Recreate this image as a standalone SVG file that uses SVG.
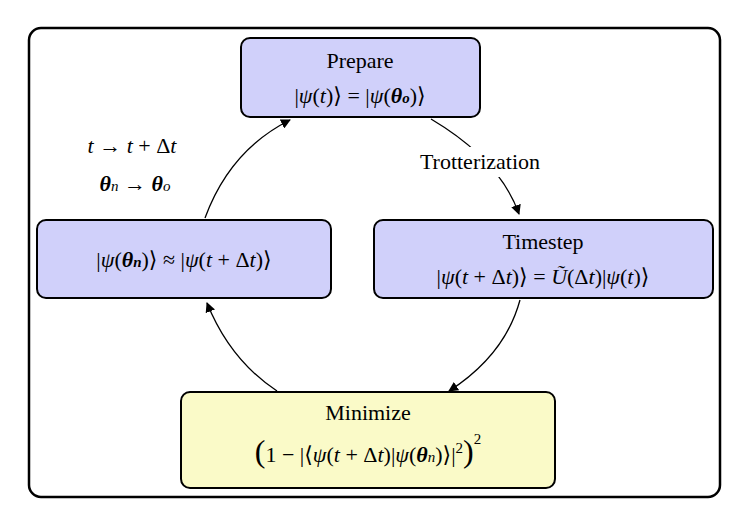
<svg xmlns="http://www.w3.org/2000/svg" width="748" height="527" viewBox="0 0 748 527">
<defs>
<style>
.n{fill:#d0d0fa;stroke:#000;stroke-width:2}
.y{fill:#fafac8;stroke:#000;stroke-width:2}
text{font-family:"Liberation Serif","DejaVu Serif",serif;font-size:22px;fill:#000;text-anchor:middle}
.i{font-style:italic}
.b{font-weight:bold;font-style:italic}
.c{fill:none;stroke:#000;stroke-width:1.3}
</style>
<marker id="a" viewBox="0 0 10 10" refX="9" refY="5" markerWidth="10" markerHeight="10" markerUnits="userSpaceOnUse" orient="auto"><path d="M0,0L10,5L0,10z" fill="#000"/></marker>
</defs>
<rect x="29" y="28" width="691" height="469" rx="12" fill="#fff" stroke="#000" stroke-width="2.5"/>
<g id="connectors">
<path class="c" d="M431,119 Q500,160 519,214" marker-end="url(#a)"/>
<path class="c" d="M520,300 Q505,355 449,391" marker-end="url(#a)"/>
<path class="c" d="M277,391 Q230,360 207,303" marker-end="url(#a)"/>
<path class="c" d="M205,218 Q230,150 290,120" marker-end="url(#a)"/>
<rect x="395" y="147" width="170" height="30" fill="#fff"/>
<text x="480" y="169">Trotterization</text>
</g>
<g id="label"><text x="132" y="153"><tspan class="i">t</tspan> → <tspan class="i">t</tspan> + Δ<tspan class="i">t</tspan></text>
<text x="135" y="191"><tspan class="b">θ</tspan><tspan class="i" font-size="15">n</tspan> → <tspan class="b">θ</tspan><tspan class="i" font-size="15">o</tspan></text></g>
<g id="prepare"><rect class="n" x="241" y="38" width="239" height="79" rx="9"/>
<text x="360" y="68">Prepare</text>
<text x="360" y="103">|<tspan class="i">ψ</tspan>(<tspan class="i">t</tspan>)⟩ = |<tspan class="i">ψ</tspan>(<tspan class="b">θ</tspan><tspan class="b" font-size="15">o</tspan>)⟩</text></g>
<g id="timestep"><rect class="n" x="374" y="220" width="339" height="78" rx="9"/>
<text x="543" y="249">Timestep</text>
<text x="543" y="284">|<tspan class="i">ψ</tspan>(<tspan class="i">t</tspan> + Δ<tspan class="i">t</tspan>)⟩ = <tspan class="i">Ũ</tspan>(Δ<tspan class="i">t</tspan>)|<tspan class="i">ψ</tspan>(<tspan class="i">t</tspan>)⟩</text></g>
<g id="approx"><rect class="n" x="37" y="220" width="294" height="78" rx="9"/>
<text x="184" y="267">|<tspan class="i">ψ</tspan>(<tspan class="b">θ</tspan><tspan class="b" font-size="15">n</tspan>)⟩ ≈ |<tspan class="i">ψ</tspan>(<tspan class="i">t</tspan> + Δ<tspan class="i">t</tspan>)⟩</text></g>
<g id="minimize"><rect class="y" x="181" y="392" width="374" height="96" rx="9"/>
<text x="368" y="420">Minimize</text>
<text x="368" y="462"><tspan font-size="32">(</tspan>1 − |⟨<tspan class="i">ψ</tspan>(<tspan class="i">t</tspan> + Δ<tspan class="i">t</tspan>)|<tspan class="i">ψ</tspan>(<tspan class="b">θ</tspan><tspan class="i" font-size="15">n</tspan>)⟩|<tspan font-size="15" dy="-9">2</tspan><tspan font-size="32" dy="9">)</tspan><tspan font-size="15" dy="-18">2</tspan></text></g>
</svg>
